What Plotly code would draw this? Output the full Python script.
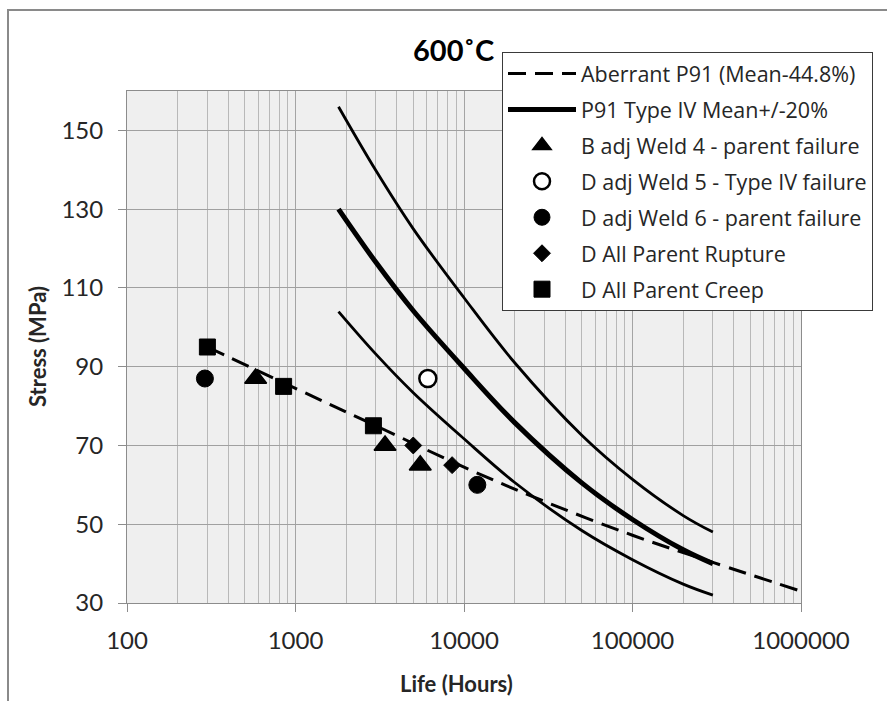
import plotly.graph_objects as go

# ---------------- data ----------------
aberrant_life = [300, 1000, 3000, 10000, 30000, 100000, 300000, 1000000]
aberrant_stress = [95, 84.5, 75, 64.5, 55.8, 47.2, 40.3, 33]

typeiv_life = [1800, 3000, 5000, 10000, 20000, 50000, 100000, 200000, 300000]
typeiv_mean = [130, 116.5, 104.2, 89.6, 75.8, 60.5, 51.2, 43.5, 40]
typeiv_upper = [156, 139.8, 125.0, 107.5, 91.0, 72.6, 61.4, 52.2, 48]
typeiv_lower = [104, 93.2, 83.4, 71.7, 60.6, 48.4, 41.0, 34.8, 32]

weld4_life = [580, 3400, 5500]
weld4_stress = [87, 70, 65]

weld5_life = [6100]
weld5_stress = [87]

weld6_life = [290, 12000]
weld6_stress = [87, 60]

rupture_life = [5000, 8500]
rupture_stress = [70, 65]

creep_life = [300, 850, 2900]
creep_stress = [95, 85, 75]

x_tick_vals = [100, 1000, 10000, 100000, 1000000]
x_tick_text = ["100", "1000", "10000", "100000", "1000000"]
y_tick_vals = [30, 50, 70, 90, 110, 130, 150]

# ---------------- layout geometry (pixels) ----------------
W, H = 887, 701
PL, PR, PT, PB = 127, 801, 91, 603
pw, ph = PR - PL, PB - PT


def px(x):
    return (x - PL) / pw


def py(y):
    return (PB - y) / ph


FONT = "Lato"
LFONT = "Open Sans"
TXT = "#262626"

fig = go.Figure()

fig.add_trace(go.Scatter(
    x=aberrant_life, y=aberrant_stress, mode="lines", name="Aberrant P91 (Mean-44.8%)",
    line=dict(color="black", width=3, dash="18px,9px", shape="spline"),
    legendgroup="g1"))
fig.add_trace(go.Scatter(
    x=typeiv_life, y=typeiv_mean, mode="lines", name="P91 Type IV Mean+/-20%",
    line=dict(color="black", width=5, shape="spline"), legendgroup="g2"))
fig.add_trace(go.Scatter(
    x=typeiv_life, y=typeiv_upper, mode="lines", showlegend=False,
    line=dict(color="black", width=2.8, shape="spline"), legendgroup="g2"))
fig.add_trace(go.Scatter(
    x=typeiv_life, y=typeiv_lower, mode="lines", showlegend=False,
    line=dict(color="black", width=2.8, shape="spline"), legendgroup="g2"))
fig.add_trace(go.Scatter(
    x=weld4_life, y=weld4_stress, mode="markers", name="B adj Weld 4 - parent failure",
    marker=dict(symbol="triangle-up", size=19, color="black", line=dict(color="black", width=1.5)),
    legendgroup="g3"))
fig.add_trace(go.Scatter(
    x=weld5_life, y=weld5_stress, mode="markers", name="D adj Weld 5 - Type IV failure",
    marker=dict(symbol="circle", size=17, color="white", line=dict(color="black", width=2.5)),
    legendgroup="g4"))
fig.add_trace(go.Scatter(
    x=weld6_life, y=weld6_stress, mode="markers", name="D adj Weld 6 - parent failure",
    marker=dict(symbol="circle", size=17, color="black", line=dict(color="black", width=1)),
    legendgroup="g5"))
fig.add_trace(go.Scatter(
    x=rupture_life, y=rupture_stress, mode="markers", name="D All Parent Rupture",
    marker=dict(symbol="diamond", size=13, color="black", line=dict(color="black", width=1)),
    legendgroup="g6"))
fig.add_trace(go.Scatter(
    x=creep_life, y=creep_stress, mode="markers", name="D All Parent Creep",
    marker=dict(symbol="square", size=16, color="black", line=dict(color="black", width=1)),
    legendgroup="g7"))

minor_vals = [m * 10 ** e for e in range(2, 6) for m in range(2, 10)]

fig.update_layout(
    width=W, height=H,
    margin=dict(l=PL, r=W - PR, t=PT, b=H - PB, pad=0),
    paper_bgcolor="white",
    plot_bgcolor="#efefef",
    font=dict(family=FONT, color=TXT),
    showlegend=True,
    legend=dict(
        x=px(502), y=py(52), xanchor="left", yanchor="top",
        bgcolor="white", bordercolor="#3a3a3a", borderwidth=1,
        font=dict(family=LFONT, size=21.5, color=TXT),
        itemwidth=68, tracegroupgap=5, traceorder="grouped",
    ),
    xaxis=dict(
        type="log", range=[2, 6],
        tickmode="array", tickvals=x_tick_vals, ticktext=x_tick_text,
        ticks="outside", ticklen=8, tickcolor="#8c8c8c", tickwidth=1,
        tickfont=dict(family=FONT, size=24, color=TXT),
        ticklabelstandoff=8,
        showgrid=True, gridcolor="#a4a4a4", gridwidth=1,
        minor=dict(tickmode="array", tickvals=minor_vals, showgrid=True,
                   gridcolor="#b8b8b8", gridwidth=1, ticks=""),
        showline=True, linecolor="#8c8c8c", linewidth=1, mirror=True,
        zeroline=False,
    ),
    yaxis=dict(
        range=[30, 160],
        tickmode="array", tickvals=y_tick_vals,
        ticks="outside", ticklen=8, tickcolor="#8c8c8c", tickwidth=1,
        tickfont=dict(family=FONT, size=24, color=TXT),
        ticklabelstandoff=10,
        showgrid=True, gridcolor="#a0a0a0", gridwidth=1,
        showline=True, linecolor="#8c8c8c", linewidth=1, mirror=True,
        zeroline=False,
    ),
    annotations=[
        dict(text="600˚C", x=px(453), y=py(49), xref="paper", yref="paper",
             showarrow=False, xanchor="center", yanchor="middle",
             font=dict(family=FONT, size=29, color="black", weight="bold")),
        dict(text="Stress (MPa)", x=px(37), y=py(347), xref="paper", yref="paper",
             showarrow=False, xanchor="center", yanchor="middle", textangle=-90,
             font=dict(family=FONT, size=22, color=TXT, weight="bold")),
        dict(text="Life (Hours)", x=px(456), y=py(683), xref="paper", yref="paper",
             showarrow=False, xanchor="center", yanchor="middle",
             font=dict(family=FONT, size=22, color=TXT, weight="bold")),
    ],
    shapes=[
        dict(type="rect", xref="paper", yref="paper",
             x0=px(8), x1=px(900), y0=py(715), y1=py(10),
             line=dict(color="#8a8a8a", width=2), fillcolor="rgba(0,0,0,0)", layer="below"),
    ],
)

fig.write_html("out.html", config={"displayModeBar": False},
               post_script="document.body.style.margin='0px';")
